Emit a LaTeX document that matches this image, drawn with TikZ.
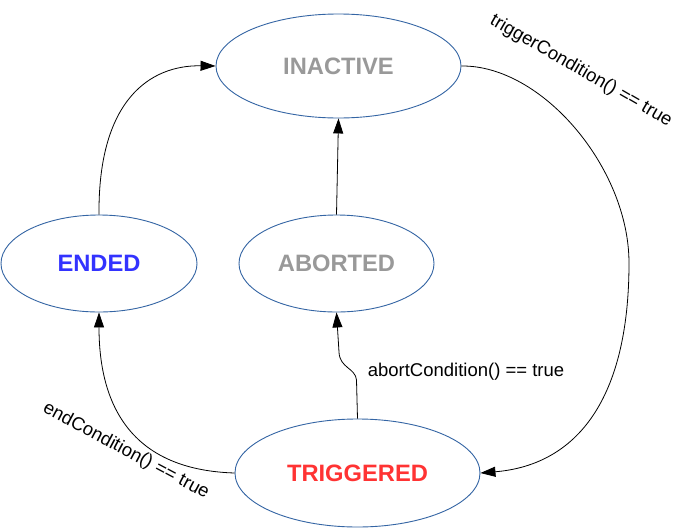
\documentclass[tikz,border=0pt]{standalone}
\usepackage{fontspec}
\setmainfont{Liberation Sans}
\usetikzlibrary{shapes.geometric,arrows.meta}
\definecolor{stateborder}{RGB}{52,101,164}
\definecolor{grayText}{RGB}{153,153,153}
\definecolor{blueText}{RGB}{51,51,255}
\definecolor{redText}{RGB}{255,51,51}
\begin{document}
\begin{tikzpicture}[x=1pt,y=-1pt,
  state/.style={ellipse,draw=stateborder,line width=0.9pt,inner sep=0pt,
    font=\fontsize{23.7}{28}\selectfont\bfseries},
  trans/.style={draw=black,line width=0.8pt,-{Triangle[length=15pt,width=10pt]}},
  cond/.style={font=\fontsize{18.5}{22}\selectfont,inner sep=0pt}]
\useasboundingbox[fill=white] (0,0) rectangle (689,528);
\node[state,minimum width=245pt,minimum height=104pt,text=grayText] (inactive) at (338.5,66) {INACTIVE};
\node[state,minimum width=196pt,minimum height=97pt,text=blueText] (ended) at (99,263.5) {ENDED};
\node[state,minimum width=195pt,minimum height=97pt,text=grayText] (aborted) at (336.5,263.5) {ABORTED};
\node[state,minimum width=245pt,minimum height=108pt,text=redText] (triggered) at (357.5,473) {TRIGGERED};

\draw[trans] (ended.north) .. controls (98,100) and (150,65) .. (inactive.west);
\draw[trans] (aborted.north) -- (inactive.south);
\draw[trans] (inactive.east) .. controls (542,65) and (629,168) .. (629,263)
  .. controls (629,399) and (577,465) .. (triggered.east);
\draw[trans] (triggered.north) -- (356.5,380) .. controls (355.5,368) and (339.5,368) .. (339,352) -- (aborted.south);
\draw[trans] (triggered.west) .. controls (135,470) and (99,410) .. (ended.south);

\node[cond,rotate=-30] (lbltrigger) at (581,71) {triggerCondition() == true};
\node[cond] (lblabort) at (466,372) {abortCondition() == true};
\node[cond,rotate=-28] (lblend) at (126,451) {endCondition() == true};
\end{tikzpicture}
\end{document}
